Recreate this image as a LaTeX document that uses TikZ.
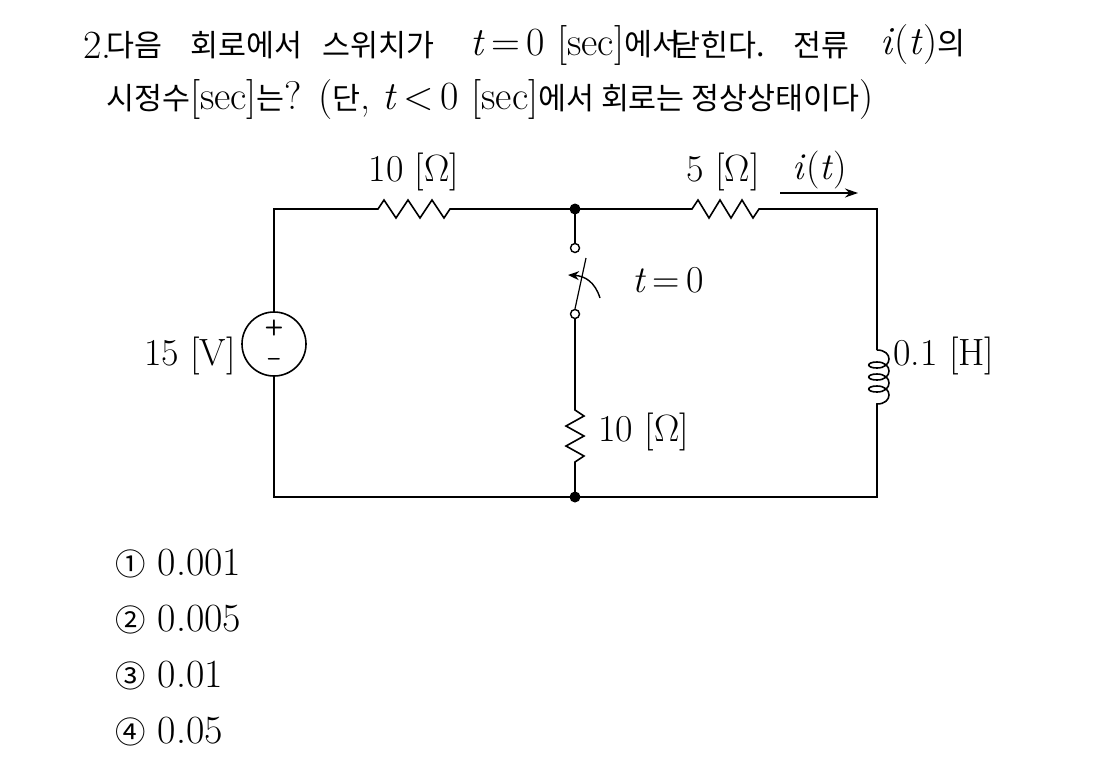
\documentclass[tikz,border=0pt]{standalone}
\usepackage{fontspec}
\newfontfamily\cjk[Scale=0.76]{Noto Sans CJK KR}
\usetikzlibrary{arrows.meta}
\begin{document}
\begin{tikzpicture}[x=1pt,y=-1pt,
  wire/.style={line width=1.6pt},
  txt/.style={inner sep=0pt,anchor=west,font=\fontsize{40}{46}\selectfont},
  lab/.style={inner sep=0pt,font=\fontsize{38}{42}\selectfont},
  dot/.style={circle,fill,inner sep=0pt,minimum size=11pt},
  term/.style={circle,draw,line width=1.4pt,fill=white,inner sep=0pt,minimum size=9pt}]
\useasboundingbox (0,0) rectangle (1110,769);
% question text
\node[txt] (q1) at (83,45) {2.};
\node[txt] (q2) at (106,45) {\cjk 다음};
\node[txt] (q3) at (190,45) {\cjk 회로에서};
\node[txt] (q4) at (322,45) {\cjk 스위치가};
\node[txt] (q5) at (470,45) {\textit{t}\,=\,0 [sec]{\cjk 에서}};
\node[txt] (q6) at (672,45) {\cjk 닫힌다.};
\node[txt] (q7) at (793,45) {\cjk 전류};
\node[txt] (q8) at (880,45) {\textit{i}(\textit{t}){\cjk 의}};
\node[txt] (q9) at (106,100) {{\cjk 시정수}[sec]{\cjk 는}? ({\cjk 단}, \textit{t}\,<\,0 [sec]{\cjk 에서 회로는 정상상태이다})};
% nodes
\coordinate (TL) at (274,209);
\coordinate (TM) at (575,209);
\coordinate (TR) at (877,209);
\coordinate (BL) at (274,497);
\coordinate (BM) at (575,497);
\coordinate (BR) at (877,497);
\node[draw,circle,line width=1.6pt,minimum size=64pt,inner sep=0pt] (V) at (274,344) {};
\node[inner sep=0pt,font=\sffamily\bfseries\fontsize{22}{22}\selectfont] (vp) at (274,328) {+};
\node[inner sep=0pt,font=\sffamily\bfseries\fontsize{22}{22}\selectfont] (vm) at (274,362) {--};
% wires
\draw[wire] (V.north) -- (TL) -- (378,209) -- ++(6,-9) -- ++(12,18) -- ++(12,-18) -- ++(12,18) -- ++(12,-18) -- ++(12,18) -- ++(6,-9) -- (TM)
  -- (692,209) -- ++(6,-9) -- ++(11,18) -- ++(11,-18) -- ++(11,18) -- ++(11,-18) -- ++(11,18) -- ++(6,-9) -- (TR) -- (877,350);
\draw[wire] (877,350) .. controls (893,350) and (893,368) .. (877,368)
  .. controls (866,368) and (866,362) .. (877,362)
  .. controls (893,362) and (893,380) .. (877,380)
  .. controls (866,380) and (866,374) .. (877,374)
  .. controls (893,374) and (893,392) .. (877,392)
  .. controls (866,392) and (866,386) .. (877,386)
  .. controls (893,386) and (893,404) .. (877,404) -- (BR) -- (BL) -- (V.south);
\node[term] (s1) at (575,248) {};
\node[term] (s2) at (575,314) {};
\draw[wire] (TM) -- (s1);
\draw[wire] (s2) -- (575,410) -- ++(9,6) -- ++(-18,10) -- ++(18,10) -- ++(-18,10) -- ++(18,10) -- ++(-9,6) -- (BM);
\draw[line width=1.2pt] (s2.north) -- (586,258);
\draw[line width=1.4pt,-{Stealth[length=11pt,width=9pt]}] (600,298) .. controls (595,282) and (585,276) .. (568,275);
\node[dot] (d1) at (TM) {};
\node[dot] (d2) at (BM) {};
\draw[line width=1.6pt,-{Stealth[length=13pt,width=9pt]}] (780,193) -- (858,193);
% labels
\node[lab] (l1) at (414,172) {10 [Ω]};
\node[lab] (l2) at (723,172) {5 [Ω]};
\node[lab] (l3) at (820,170) {\textit{i}(\textit{t})};
\node[lab,anchor=west] (l4) at (632,280) {\textit{t}\,=\,0};
\node[lab,anchor=east] (l5) at (236,356) {15 [V]};
\node[lab,anchor=west] (l6) at (893,356) {0.1 [H]};
\node[lab,anchor=west] (l7) at (598,432) {10 [Ω]};
% choices
\node[txt] (c1) at (115,564) {{\cjk ①} 0.001};
\node[txt] (c2) at (115,620) {{\cjk ②} 0.005};
\node[txt] (c3) at (115,676) {{\cjk ③} 0.01};
\node[txt] (c4) at (115,732) {{\cjk ④} 0.05};
\end{tikzpicture}
\end{document}
